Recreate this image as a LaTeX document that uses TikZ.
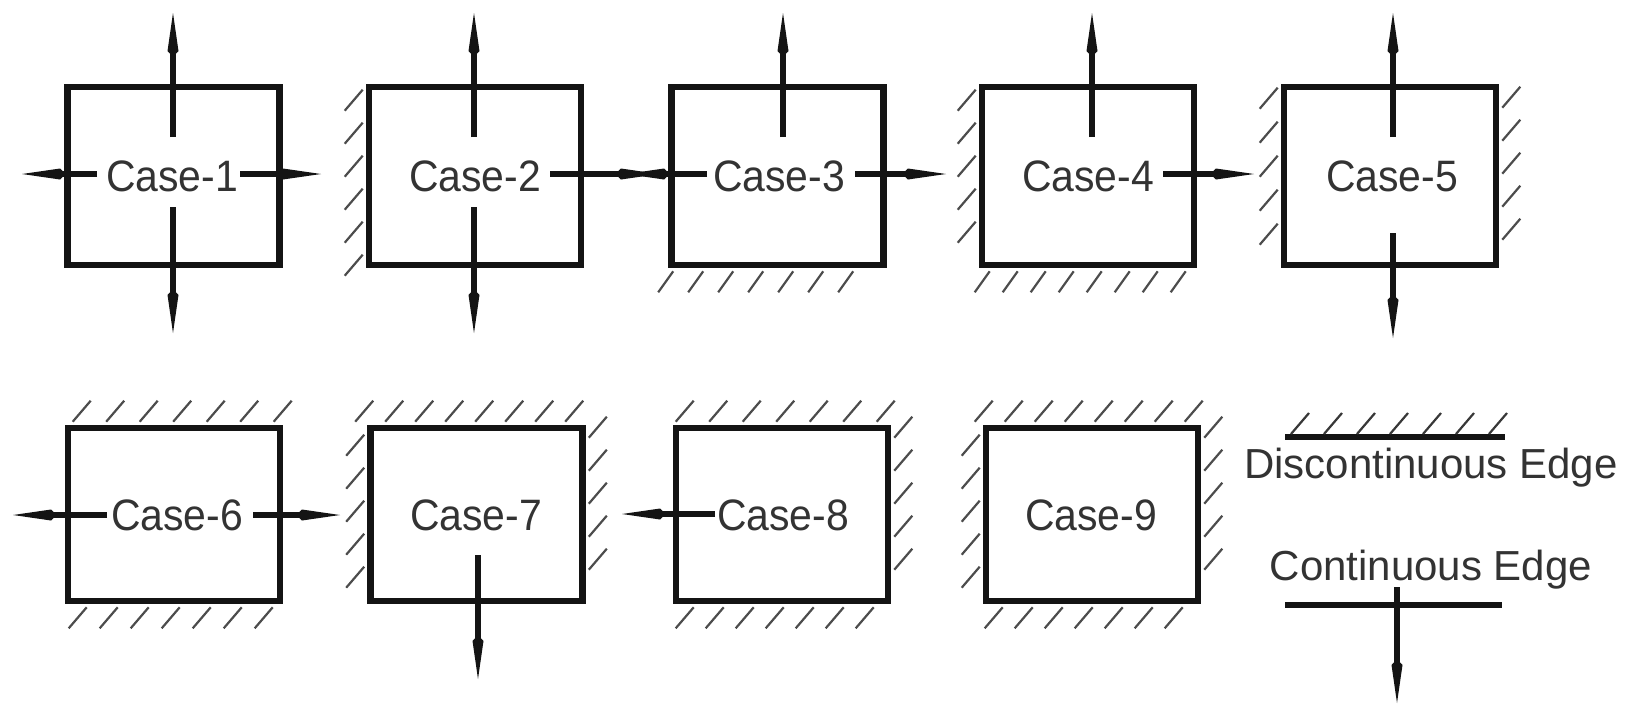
\documentclass[tikz,border=0pt]{standalone}
\usepackage{fontspec}
\setmainfont{Liberation Sans}
\newfontfamily\casefont[FakeStretch=0.93]{Liberation Sans}
\usetikzlibrary{arrows.meta,calc}
\begin{document}
\begin{tikzpicture}[x=0.5pt,y=-0.5pt,
  box/.style={draw=black!92, line width=3.3pt, minimum width=106pt, inner sep=0pt},
  rowA/.style={minimum height=89pt},
  rowB/.style={minimum height=86.5pt},
  lbl/.style={text=black!80, font=\casefont\fontsize{22}{26}\selectfont, inner sep=0pt, anchor=base},
  legendtxt/.style={text=black!80, font=\fontsize{21}{25}\selectfont, inner sep=0pt, anchor=base},
  arr/.style={draw=black!92, line width=3pt, -{Kite[length=22pt,width=5.5pt,inset=3pt]}},
  hatch/.style={draw=black!70, line width=1.1pt},
  edgeline/.style={draw=black!92, line width=3pt}]

\useasboundingbox (0,0) rectangle (1640,708);

% ---------- boxes ----------
\node[box,rowA] (b1) at (173.5,176) {};
\node[box,rowA] (b2) at (475,176) {};
\node[box,rowA] (b3) at (777.5,176) {};
\node[box,rowA] (b4) at (1088,176) {};
\node[box,rowA] (b5) at (1390,176) {};
\node[box,rowB] (b6) at (174,514.5) {};
\node[box,rowB] (b7) at (476.5,514.5) {};
\node[box,rowB] (b8) at (782,514.5) {};
\node[box,rowB] (b9) at (1092,514.5) {};

% ---------- labels ----------
\node[lbl] (t1) at (172,191) {Case-1};
\node[lbl] (t2) at (475,191) {Case-2};
\node[lbl] (t3) at (779,191) {Case-3};
\node[lbl] (t4) at (1088,191) {Case-4};
\node[lbl] (t5) at (1392,191) {Case-5};
\node[lbl] (t6) at (177,530) {Case-6};
\node[lbl] (t7) at (476,530) {Case-7};
\node[lbl] (t8) at (783,530) {Case-8};
\node[lbl] (t9) at (1091,530) {Case-9};

% ---------- hatching of discontinuous edges ----------
% Case-2: left
\foreach \k in {0,...,5} \draw[hatch] ($(b2.north west)+(-3,6+33*\k)$) -- ++(-18,21);
% Case-3: bottom
\foreach \k in {0,...,6} \draw[hatch] ($(b3.south west)+(5+30*\k,3)$) -- ++(-15,21);
% Case-4: left, bottom
\foreach \k in {0,...,4} \draw[hatch] ($(b4.north west)+(-3,6+33*\k)$) -- ++(-18,21);
\foreach \k in {0,...,7} \draw[hatch] ($(b4.south west)+(11+28*\k,3)$) -- ++(-15,21);
% Case-5: left, right
\foreach \k in {0,...,4} \draw[hatch] ($(b5.north west)+(-3,4+34*\k)$) -- ++(-18,21);
\foreach \k in {0,...,4} \draw[hatch] ($(b5.north east)+(3,24+33*\k)$) -- ++(18,-21);
% Case-6: top, bottom
\foreach \k in {0,...,6} \draw[hatch] ($(b6.north west)+(8+33.5*\k,-3)$) -- ++(18,-21);
\foreach \k in {0,...,6} \draw[hatch] ($(b6.south west)+(22+31*\k,3)$) -- ++(-18,21);
% Case-7: top, left, right
\foreach \k in {0,...,7} \draw[hatch] ($(b7.north west)+(-12+30*\k,-3)$) -- ++(18,-21);
\foreach \k in {0,...,4} \draw[hatch] ($(b7.north west)+(-3,10+33*\k)$) -- ++(-18,21);
\foreach \k in {0,...,4} \draw[hatch] ($(b7.north east)+(3,13+33*\k)$) -- ++(18,-21);
% Case-8: top, right, bottom
\foreach \k in {0,...,6} \draw[hatch] ($(b8.north west)+(3+33.5*\k,-3)$) -- ++(18,-21);
\foreach \k in {0,...,4} \draw[hatch] ($(b8.north east)+(3,13+33*\k)$) -- ++(18,-21);
\foreach \k in {0,...,6} \draw[hatch] ($(b8.south west)+(21+30*\k,3)$) -- ++(-18,21);
% Case-9: all four edges
\foreach \k in {0,...,7} \draw[hatch] ($(b9.north west)+(-8+30*\k,-3)$) -- ++(18,-21);
\foreach \k in {0,...,4} \draw[hatch] ($(b9.north west)+(-3,10+33*\k)$) -- ++(-18,21);
\foreach \k in {0,...,4} \draw[hatch] ($(b9.north east)+(3,13+33*\k)$) -- ++(18,-21);
\foreach \k in {0,...,6} \draw[hatch] ($(b9.south west)+(20+30*\k,3)$) -- ++(-18,21);

% ---------- continuous edges (arrows) ----------
% Case-1
\coordinate (c1a) at (173,137); \coordinate (c1b) at (173,13);
\coordinate (c1c) at (173,207); \coordinate (c1d) at (173,333);
\coordinate (c1e) at (97,174);  \coordinate (c1f) at (22,174);
\coordinate (c1g) at (240,174); \coordinate (c1h) at (321,174);
\draw[arr] (c1a) -- (c1b);
\draw[arr] (c1c) -- (c1d);
\draw[arr] (c1e) -- (c1f);
\draw[arr] (c1g) -- (c1h);
% Case-2
\coordinate (c2a) at (474,137); \coordinate (c2b) at (474,13);
\coordinate (c2c) at (474,207); \coordinate (c2d) at (474,333);
\coordinate (c2g) at (550,174); \coordinate (c2h) at (659,174);
\draw[arr] (c2a) -- (c2b);
\draw[arr] (c2c) -- (c2d);
\draw[arr] (c2g) -- (c2h);
% Case-3
\coordinate (c3a) at (783,137); \coordinate (c3b) at (783,13);
\coordinate (c3e) at (707,174); \coordinate (c3f) at (626,174);
\coordinate (c3g) at (855,174); \coordinate (c3h) at (946,174);
\draw[arr] (c3a) -- (c3b);
\draw[arr] (c3e) -- (c3f);
\draw[arr] (c3g) -- (c3h);
% Case-4
\coordinate (c4a) at (1092,137); \coordinate (c4b) at (1092,13);
\coordinate (c4g) at (1163,174); \coordinate (c4h) at (1254,174);
\draw[arr] (c4a) -- (c4b);
\draw[arr] (c4g) -- (c4h);
% Case-5
\coordinate (c5a) at (1393,137); \coordinate (c5b) at (1393,13);
\coordinate (c5c) at (1393,233); \coordinate (c5d) at (1393,338);
\draw[arr] (c5a) -- (c5b);
\draw[arr] (c5c) -- (c5d);
% Case-6
\coordinate (c6e) at (107,515); \coordinate (c6f) at (13,515);
\coordinate (c6g) at (253,515); \coordinate (c6h) at (340,515);
\draw[arr] (c6e) -- (c6f);
\draw[arr] (c6g) -- (c6h);
% Case-7
\coordinate (c7c) at (478,555); \coordinate (c7d) at (478,679);
\draw[arr] (c7c) -- (c7d);
% Case-8
\coordinate (c8e) at (715,514); \coordinate (c8f) at (622,514);
\draw[arr] (c8e) -- (c8f);

% ---------- legend ----------
\coordinate (d1) at (1285,437); \coordinate (d2) at (1505,437);
\draw[edgeline] (d1) -- (d2);
\foreach \k in {0,...,6} \draw[hatch, draw=black!78] ($(d1)+(6+33*\k,-3)$) -- ++(18,-21);
\node[legendtxt] (ld) at (1431,478) {Discontinuous Edge};
\node[legendtxt] (lc) at (1431,580) {Continuous Edge};
\coordinate (e1) at (1285,605); \coordinate (e2) at (1502,605);
\draw[edgeline] (e1) -- (e2);
\coordinate (e3) at (1397,587); \coordinate (e4) at (1397,703);
\draw[arr] (e3) -- (e4);
\end{tikzpicture}
\end{document}
